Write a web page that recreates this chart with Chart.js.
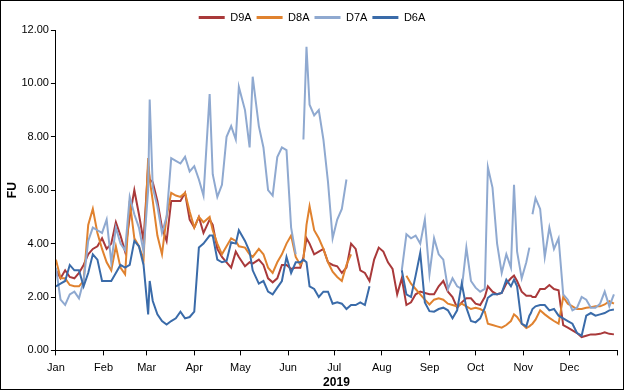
<!DOCTYPE html>
<html>
<head>
<meta charset="utf-8">
<script src="https://cdn.jsdelivr.net/npm/chart.js@4.4.1/dist/chart.umd.min.js"></script>
<style>
  body { margin: 0; background: #fff; }
  #box { position: absolute; left: 0; top: 0; width: 624px; height: 390px; border: 1px solid #000; box-sizing: border-box; }
  #chart_fu { display: block; }
</style>
</head>
<body>
<div id="box"><canvas id="chart_fu" width="622" height="388"></canvas></div>
<script>
// day of year (0 = 1 Jan 2019)
var days = [0, 3, 6, 9, 12, 15, 18, 21, 24, 27,
    30, 33, 36, 39, 42, 45, 48, 51, 54, 57,
    60, 61, 63, 66, 69, 72, 75, 78, 81, 84,
    87, 90, 93, 96, 100, 102, 105, 108, 111, 114,
    117, 119, 123, 126, 128, 132, 135, 138, 141, 144,
    147, 150, 153, 156, 159, 161, 163, 165, 168, 171,
    174, 177, 180, 183, 186, 189, 192, 195, 198, 201,
    204, 207, 210, 213, 216, 219, 222, 225, 228, 231,
    234, 237, 240, 243, 246, 249, 252, 255, 258, 261,
    264, 267, 270, 273, 276, 279, 281, 284, 287, 290,
    293, 296, 298, 300, 303, 306, 308, 309, 310, 312,
    315, 318, 321, 324, 327, 330, 333, 336, 339, 342,
    345, 348, 351, 354, 357, 360, 363];

var d9a = [3.0, 2.7, 3.0, 2.75, 2.7, 2.9, 3.2, 3.6, 3.8, 3.9,
    4.2, 3.8, 4.0, 4.8, 4.3, 3.7, 5.0, 6.0, 5.1, 4.1,
    6.9, 6.4, 6.3, 5.6, 4.6, 4.1, 5.6, 5.6, 5.6, 5.9,
    4.9, 4.6, 5.0, 4.4, 4.9, 4.7, 3.8, 3.5, 3.3, 3.1,
    3.7, 3.5, 3.15, 3.3, 3.25, 3.4, 3.2, 2.7, 2.55, 2.7,
    3.2, 3.2, 3.05, 3.1, 3.1, 3.5, 4.2, 4.0, 3.6, 3.7,
    3.8, 3.3, 3.2, 3.15, 2.9, 3.1, 4.0, 3.8, 3.0, 2.9,
    2.6, 3.4, 3.85, 3.7, 3.3, 3.05, 2.1, 2.7, 1.7, 1.8,
    2.1, 2.2, 2.15, 2.1, 2.1, 2.4, 2.6, 2.2, 2.0, 1.6,
    1.8, 1.95, 1.95, 1.75, 1.7, 2.0, 2.4, 2.2, 2.1, 2.15,
    2.5, 2.7, 2.8, 2.6, 2.2, 2.05, 2.05, 2.05, 2.0, 2.0,
    2.3, 2.3, 2.45, 2.3, 2.25, 0.95, 0.85, 0.75, 0.65, 0.5,
    0.55, 0.6, 0.6, 0.62, 0.68, 0.62, 0.6];

var d8a = [3.4, 2.7, 2.7, 2.45, 2.4, 2.4, 2.6, 4.7, 5.3, 4.4,
    3.8, 3.3, 3.0, 3.9, 3.1, 2.85, 5.6, 4.2, 3.9, 3.4,
    7.2, 6.4, 5.6, 4.3, 3.6, 5.0, 5.9, 5.8, 5.75, 5.9,
    5.2, 4.6, 5.0, 4.8, 5.0, 4.5, 4.0, 3.6, 3.9, 4.2,
    4.1, 3.9, 3.85, 3.6, 3.5, 3.8, 3.6, 3.1, 2.9, 3.3,
    3.6, 4.0, 4.3, 3.5, 3.2, 3.4, 4.7, 5.4, 4.5, 4.2,
    3.8, 3.3, 2.95, 2.75, 2.6, 3.2, 3.6, null, null, null,
    null, null, null, null, null, null, null, null, 2.8, 2.5,
    2.3, 2.1, 1.9, 1.72, 1.9, 1.95, 1.9, 1.75, 1.7, 1.65,
    1.75, 1.65, 1.55, 1.6, 1.55, 1.45, 1.0, 0.95, 0.9, 0.85,
    0.95, 1.1, 1.35, 1.25, 1.0, 0.84, 0.9, 0.95, 1.0, 1.15,
    1.5, 1.35, 1.22, 1.1, 1.0, 2.0, 1.75, 1.65, 1.55, 1.55,
    1.6, 1.62, 1.65, 1.65, 1.72, 1.84, 1.75];

var d7a = [3.1, 1.9, 1.7, 2.1, 2.2, 1.95, 2.6, 4.1, 4.6, 4.5,
    4.4, 4.9, 3.3, 4.6, 4.0, 3.75, 5.75, 5.1, 4.6, 3.7,
    6.0, 9.4, 6.1, 5.4, 4.4, 5.0, 7.2, 7.1, 7.0, 7.25,
    6.7, 6.9, 6.4, 5.8, 9.6, 6.6, 5.75, 6.2, 8.0, 8.4,
    7.9, 9.87, 9.0, 7.6, 10.25, 8.4, 7.6, 6.0, 5.8, 7.24,
    7.6, 7.5, 4.6, 3.6, null, 7.9, 11.37, 9.2, 8.8, 9.0,
    7.9, 6.3, 4.2, 4.9, 5.3, 6.4, null, null, null, null,
    null, null, null, null, null, null, null, 3.0, 4.35, 4.2,
    4.3, 4.0, 4.9, 2.85, 4.2, 3.6, 3.4, 2.3, 2.7, 2.4,
    2.3, 3.85, 2.6, 2.35, 2.2, 2.3, 6.86, 6.1, 4.0, 2.9,
    3.6, 3.1, 6.2, 3.7, 2.7, 3.3, 3.85, null, 5.1, 5.7,
    5.3, 3.5, 4.6, 3.8, 4.2, 2.1, 1.9, 1.5, 1.6, 2.0,
    1.9, 1.6, 1.6, 1.75, 2.2, 1.65, 2.1];

var d6a = [2.4, 2.5, 2.6, 3.2, 3.0, 3.0, 2.4, 2.9, 3.6, 3.4,
    2.6, 2.6, 2.6, 2.9, 3.2, 3.1, 3.2, 4.1, 3.9, 3.2,
    1.35, 2.6, 1.85, 1.35, 1.1, 0.97, 1.1, 1.2, 1.45, 1.2,
    1.25, 1.45, 3.85, 4.0, 4.3, 4.3, 3.4, 3.3, 3.35, 4.05,
    4.0, 4.5, 4.1, 3.7, 3.0, 2.5, 2.6, 2.2, 2.1, 2.35,
    2.6, 3.5, 2.9, 3.3, 3.3, 3.4, 3.3, 2.4, 2.3, 2.0,
    2.2, 2.2, 1.75, 1.8, 1.75, 1.55, 1.7, 1.7, 1.8, 1.7,
    2.4, null, null, null, null, null, null, 3.0, 2.1, 2.0,
    2.8, 3.65, 1.8, 1.47, 1.45, 1.55, 1.6, 1.5, 1.2, 1.5,
    2.5, 1.6, 1.1, 1.05, 1.2, 1.6, 1.97, 2.1, 2.1, 2.15,
    2.65, 2.4, 2.65, 2.4, 1.0, 0.9, 1.3, 1.4, 1.55, 1.65,
    1.7, 1.7, 1.5, 1.55, 1.3, 1.2, 1.1, 1.0, 0.65, 0.55,
    1.3, 1.4, 1.3, 1.35, 1.4, 1.5, 1.53];

var monthStarts = [0, 31, 59, 90, 120, 151, 181, 212, 243, 273, 304, 334, 365];
var monthNames = ['Jan', 'Feb', 'Mar', 'Apr', 'May', 'Jun', 'Jul', 'Aug', 'Sep', 'Oct', 'Nov', 'Dec', ''];
var yTicks = [0, 2, 4, 6, 8, 10, 12];

function points(values) {
    return days.map(function (d, i) { return { x: d, y: values[i] }; });
}

function series(label, values, color, order) {
    return {
        label: label,
        data: points(values),
        borderColor: color,
        backgroundColor: color,
        borderWidth: 2,
        pointRadius: 0,
        tension: 0,
        spanGaps: false,
        order: order
    };
}

// legend adds 10px under itself, the original sits closer to the plot
var legendTrim = {
    id: 'legendTrim',
    beforeLayout: function (chart) {
        var lg = chart.legend;
        if (lg && !lg._trimmed) {
            var fit = lg.fit;
            lg.fit = function () {
                fit.call(this);
                this.height -= 3;
            };
            lg._trimmed = true;
        }
    }
};

var font = { family: '"Liberation Sans", Arial, sans-serif', size: 11 };

var ctx = document.getElementById('chart_fu').getContext('2d');
var fuChart = new Chart(ctx, {
    type: 'line',
    data: {
        datasets: [
            series('D9A', d9a, '#A9393A', 4),
            series('D8A', d8a, '#E0822F', 3),
            series('D7A', d7a, '#8FA9D0', 2),
            series('D6A', d6a, '#3A6BA9', 1)
        ]
    },
    plugins: [legendTrim],
    options: {
        responsive: false,
        animation: false,
        devicePixelRatio: 1,
        layout: { padding: { left: 4, right: 4, top: 6, bottom: -1 } },
        plugins: {
            tooltip: { enabled: false },
            legend: {
                position: 'top',
                labels: {
                    boxWidth: 26,
                    boxHeight: 3,
                    padding: 5,
                    color: '#000',
                    font: font,
                    sort: function (a, b) { return a.datasetIndex - b.datasetIndex; },
                    generateLabels: function (chart) {
                        var items = Chart.defaults.plugins.legend.labels.generateLabels(chart);
                        items.forEach(function (it) { it.lineWidth = 0; });
                        return items;
                    }
                }
            }
        },
        scales: {
            x: {
                type: 'linear',
                min: 0,
                max: 365,
                afterBuildTicks: function (axis) {
                    axis.ticks = monthStarts.map(function (v) { return { value: v }; });
                },
                ticks: {
                    autoSkip: false,
                    maxRotation: 0,
                    color: '#000',
                    font: font,
                    padding: 6,
                    callback: function (value) {
                        var i = monthStarts.indexOf(value);
                        return i >= 0 ? monthNames[i] : '';
                    }
                },
                grid: { drawOnChartArea: false, drawTicks: true, tickLength: 5, color: '#000' },
                border: { color: '#000' },
                title: {
                    display: true,
                    text: '2019',
                    color: '#000',
                    font: { family: font.family, size: 12, weight: 'bold' },
                    padding: { top: -5, bottom: 0 }
                }
            },
            y: {
                min: 0,
                max: 12,
                afterBuildTicks: function (axis) {
                    axis.ticks = yTicks.map(function (v) { return { value: v }; });
                },
                ticks: {
                    color: '#000',
                    font: font,
                    padding: 2,
                    callback: function (value) { return value.toFixed(2); }
                },
                grid: { drawOnChartArea: false, drawTicks: true, tickLength: 5, color: '#000' },
                border: { color: '#000' },
                title: {
                    display: true,
                    text: 'FU',
                    color: '#000',
                    font: { family: font.family, size: 12, weight: 'bold' },
                    padding: { top: 0, bottom: 0 }
                }
            }
        }
    }
});
</script>
</body>
</html>
